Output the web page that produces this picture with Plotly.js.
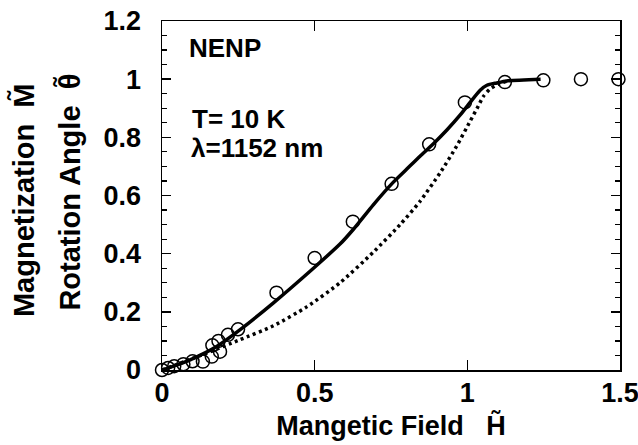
<!DOCTYPE html>
<html>
<head>
<meta charset="utf-8">
<script src="https://cdn.plot.ly/plotly-3.0.1.min.js"></script>
<style>
html,body{margin:0;padding:0;background:#fff;}
#chart{width:638px;height:445px;}
</style>
</head>
<body>
<div id="chart"></div>
<script>
// Experimental points (open circles)
var circX = [0, 0.02, 0.04, 0.07, 0.1, 0.134, 0.163, 0.165, 0.185, 0.19, 0.216, 0.249, 0.375, 0.5, 0.625, 0.752, 0.875, 0.992, 1.123, 1.249, 1.372, 1.495];
var circY = [0, 0.007, 0.013, 0.02, 0.03, 0.029, 0.046, 0.085, 0.1, 0.063, 0.121, 0.14, 0.266, 0.385, 0.51, 0.64, 0.776, 0.92, 0.99, 0.996, 1.0, 1.0];

// Solid curve
var solidX = [0, 0.05, 0.092, 0.179, 0.255, 0.365, 0.496, 0.583, 0.627, 0.692, 0.757, 0.801, 0.845, 0.888, 0.933, 0.976, 1.009, 1.042, 1.064, 1.096, 1.129, 1.24];
var solidY = [0, 0.018, 0.035, 0.081, 0.138, 0.231, 0.35, 0.433, 0.484, 0.568, 0.645, 0.69, 0.735, 0.777, 0.825, 0.876, 0.92, 0.962, 0.979, 0.987, 0.994, 1.0];

// Dotted curve
var dotX = [0, 0.146, 0.255, 0.365, 0.474, 0.583, 0.692, 0.78, 0.845, 0.911, 0.965, 1.009, 1.036, 1.052, 1.074, 1.102, 1.13];
var dotY = [0, 0.058, 0.104, 0.152, 0.217, 0.3, 0.405, 0.5, 0.58, 0.678, 0.77, 0.855, 0.908, 0.94, 0.966, 0.983, 0.993];

var xTicks = [0, 0.5, 1, 1.5];
var xTickText = ['0', '0.5', '1', '1.5'];
var yTicks = [0, 0.2, 0.4, 0.6, 0.8, 1, 1.2];
var yTickText = ['0', '0.2', '0.4', '0.6', '0.8', '1', '1.2'];

var FONT = 'Liberation Sans, Arial, Helvetica, sans-serif';

var traces = [
  {x: dotX, y: dotY, mode: 'lines', line: {color: '#000', width: 3.5, dash: '3px,3.5px', shape: 'spline', smoothing: 0.6}, hoverinfo: 'none'},
  {x: solidX, y: solidY, mode: 'lines', line: {color: '#000', width: 3.5, shape: 'spline', smoothing: 0.6}, hoverinfo: 'none'},
  {x: circX, y: circY, mode: 'markers', cliponaxis: false,
   marker: {symbol: 'circle-open', size: 13, color: '#000', line: {width: 1.5, color: '#000'}}, hoverinfo: 'none'}
];

var layout = {
  width: 638, height: 445,
  margin: {l: 162, r: 18, t: 21, b: 75},
  paper_bgcolor: '#fff', plot_bgcolor: '#fff',
  showlegend: false,
  font: {family: FONT, size: 26, color: '#000', weight: 'bold'},
  xaxis: {
    range: [0, 1.5], tickvals: xTicks, ticktext: xTickText,
    ticks: 'inside', ticklen: 10, tickwidth: 1.5, tickcolor: '#000',
    showline: true, linewidth: 1.5, linecolor: '#000', mirror: 'ticks',
    showgrid: false, zeroline: false,
    tickfont: {family: FONT, size: 27, weight: 'bold'},
    ticklabelstandoff: -2, ticklabeloverflow: 'allow',
    title: {text: 'Mangetic Field\u00A0\u00A0 H\u0303', font: {family: FONT, size: 27, weight: 'bold'}, standoff: 9}
  },
  yaxis: {
    range: [0, 1.2], tickvals: yTicks, ticktext: yTickText,
    ticks: 'inside', ticklen: 9, tickwidth: 1.5, tickcolor: '#000',
    minor: {dtick: 0.05, ticks: 'inside', ticklen: 5, tickwidth: 1.2, tickcolor: '#000'},
    showline: true, linewidth: 1.5, linecolor: '#000', mirror: 'ticks',
    showgrid: false, zeroline: false,
    tickfont: {family: FONT, size: 27, weight: 'bold'},
    ticklabelstandoff: 14, ticklabeloverflow: 'allow'
  },
  annotations: [
    {xref: 'paper', yref: 'paper', x: -0.302, y: 0.486, text: 'Magnetization\u00A0 M\u0303', textangle: -90,
     showarrow: false, xanchor: 'center', yanchor: 'middle', font: {family: FONT, size: 29, weight: 'bold'}},
    {xref: 'paper', yref: 'paper', x: -0.201, y: 0.511, text: 'Rotation Angle\u00A0 \u03B8\u0303', textangle: -90,
     showarrow: false, xanchor: 'center', yanchor: 'middle', font: {family: FONT, size: 29, weight: 'bold'}},
    {xref: 'paper', yref: 'paper', x: 0.055, y: 0.922, text: 'NENP', showarrow: false,
     xanchor: 'left', yanchor: 'middle', font: {family: FONT, size: 26, weight: 'bold'}},
    {xref: 'paper', yref: 'paper', x: 0.062, y: 0.718, text: 'T= 10 K', showarrow: false,
     xanchor: 'left', yanchor: 'middle', font: {family: FONT, size: 26, weight: 'bold'}},
    {xref: 'paper', yref: 'paper', x: 0.058, y: 0.635, text: '\u03BB=1152 nm', showarrow: false,
     xanchor: 'left', yanchor: 'middle', font: {family: FONT, size: 26, weight: 'bold'}}
  ]
};

Plotly.newPlot('chart', traces, layout, {staticPlot: true, displayModeBar: false});
</script>
</body>
</html>
